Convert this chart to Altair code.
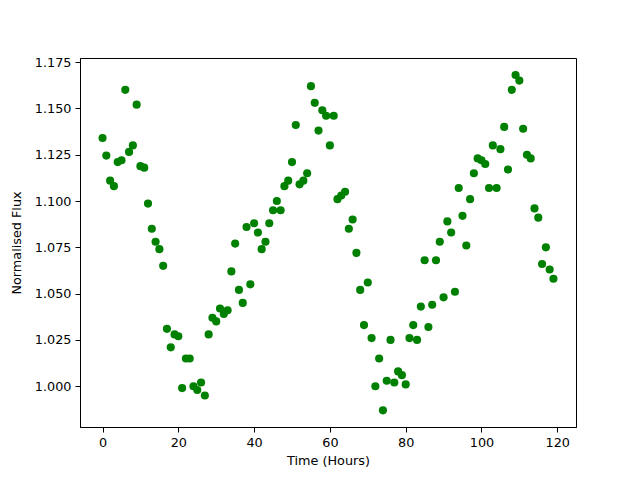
import altair as alt
import pandas as pd

hours = list(range(120))
flux = [
    1.134, 1.1245, 1.111, 1.108, 1.121, 1.122, 1.160, 1.1265, 1.130, 1.152,
    1.1188, 1.118, 1.0986, 1.085, 1.078, 1.074, 1.065, 1.031, 1.021, 1.028,
    1.027, 0.999, 1.015, 1.015, 1.000, 0.998, 1.002, 0.995, 1.028, 1.037,
    1.035, 1.042, 1.039, 1.041, 1.062, 1.077, 1.052, 1.045, 1.086, 1.055,
    1.088, 1.083, 1.074, 1.078, 1.088, 1.095, 1.100, 1.095, 1.108, 1.111,
    1.121, 1.141, 1.109, 1.111, 1.115, 1.162, 1.153, 1.138, 1.149, 1.146,
    1.130, 1.146, 1.101, 1.103, 1.105, 1.085, 1.090, 1.072, 1.052, 1.033,
    1.056, 1.026, 1.000, 1.015, 0.987, 1.003, 1.025, 1.002, 1.008, 1.006,
    1.001, 1.026, 1.033, 1.025, 1.043, 1.068, 1.032, 1.044, 1.068, 1.078,
    1.048, 1.089, 1.083, 1.051, 1.107, 1.092, 1.076, 1.101, 1.115, 1.123,
    1.122, 1.120, 1.107, 1.130, 1.107, 1.128, 1.140, 1.117, 1.160, 1.168,
    1.165, 1.139, 1.125, 1.123, 1.096, 1.091, 1.066, 1.075, 1.063, 1.058,
]
x_ticks = [0, 20, 40, 60, 80, 100, 120]
y_ticks = [1.000, 1.025, 1.050, 1.075, 1.100, 1.125, 1.150, 1.175]

df = pd.DataFrame({"hours": hours, "flux": flux})

font = "DejaVu Sans"

chart = (
    alt.Chart(df)
    .mark_circle(color="#008000", opacity=1, size=66)
    .encode(
        x=alt.X(
            "hours:Q",
            scale=alt.Scale(domain=[-5.95, 124.95], nice=False, zero=False),
            axis=alt.Axis(
                values=x_ticks,
                title="Time (Hours)",
                grid=False,
                format="d",
                labelFlush=False,
            ),
        ),
        y=alt.Y(
            "flux:Q",
            scale=alt.Scale(domain=[0.978, 1.1772], nice=False, zero=False),
            axis=alt.Axis(
                values=y_ticks,
                title="Normalised Flux",
                grid=False,
                format=".3f",
                labelFlush=False,
            ),
        ),
    )
    .properties(
        width=496,
        height=369,
        autosize=alt.AutoSizeParams(type="none"),
        padding={"left": 72, "top": 50, "right": 56, "bottom": 45},
        background="white",
    )
    .configure_view(stroke="black", strokeWidth=1)
    .configure_axis(
        domainColor="black",
        domainWidth=1,
        tickColor="black",
        tickSize=5,
        tickWidth=1,
        labelFont=font,
        labelFontSize=12.8,
        labelColor="black",
        labelPadding=4,
        titleFont=font,
        titleFontSize=12.8,
        titleFontWeight="normal",
        titleColor="black",
    )
    .configure_axisX(titlePadding=6)
    .configure_axisY(titlePadding=11)
)

chart.save("out.html", embed_options={"renderer": "svg", "actions": False})
